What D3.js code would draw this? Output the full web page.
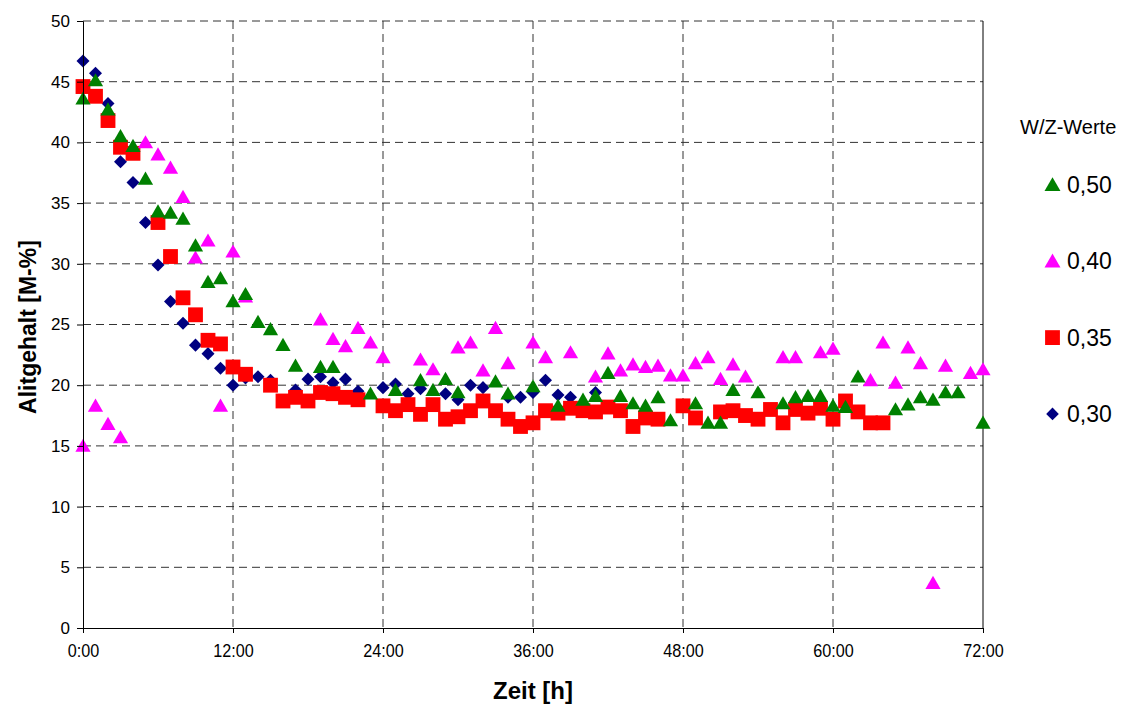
<!DOCTYPE html>
<html>
<head>
<meta charset="utf-8">
<script src="https://cdn.jsdelivr.net/npm/d3@7"></script>
<style>
  body { margin: 0; background: #fff; }
  svg { font-family: Arial, "Liberation Sans", sans-serif; }
</style>
</head>
<body>
<div id="chart"></div>
<script>
// W/Z 0,50 (green triangles) [hour, value]
var wz050 = [[0,43.6],[1,45.1],[2,42.7],[3,40.5],[4,39.7],[5,37.0],[6,34.3],[7,34.2],[8,33.7],[9,31.5],
  [10,28.5],[11,28.8],[12,26.9],[13,27.5],[14,25.2],[15,24.6],[16,23.3],[17,21.6],[19,21.5],[20,21.5],
  [23,19.3],[25,19.6],[27,20.4],[28,19.6],[29,20.5],[30,19.4],[33,20.3],[34,19.3],[36,19.9],[38,18.3],
  [40,18.8],[41,19.1],[42,21.0],[43,19.1],[44,18.5],[45,18.3],[46,19.0],[47,17.1],[49,18.5],[50,16.9],
  [51,16.9],[52,19.6],[54,19.4],[56,18.5],[57,19.0],[58,19.1],[59,19.1],[60,18.3],[61,18.2],[62,20.7],
  [65,18.0],[66,18.4],[67,19.0],[68,18.8],[69,19.4],[70,19.4],[72,16.9]];
// W/Z 0,40 (magenta triangles)
var wz040 = [[0,15.0],[1,18.3],[2,16.8],[3,15.7],[5,40.0],[6,39.0],[7,37.9],[8,35.5],[9,30.5],[10,31.9],
  [11,18.3],[12,31.0],[13,27.3],[19,25.4],[20,23.8],[21,23.2],[22,24.7],[23,23.5],[24,22.3],[27,22.1],
  [28,21.3],[30,23.1],[31,23.5],[32,21.2],[33,24.7],[34,21.8],[36,23.5],[37,22.3],[39,22.7],[41,20.7],
  [42,22.6],[43,21.2],[44,21.7],[45,21.5],[46,21.6],[47,20.8],[48,20.8],[49,21.8],[50,22.3],[51,20.5],
  [52,21.7],[53,20.7],[56,22.3],[57,22.3],[59,22.7],[60,23.0],[63,20.4],[64,23.5],[65,20.2],[66,23.1],
  [67,21.8],[68,3.7],[69,21.6],[71,21.0],[72,21.3]];
// W/Z 0,35 (red squares)
var wz035 = [[0,44.6],[1,43.8],[2,41.8],[3,39.6],[4,39.1],[6,33.4],[7,30.6],[8,27.2],[9,25.8],[10,23.7],
  [11,23.4],[12,21.5],[13,20.9],[15,20.0],[16,18.7],[17,19.0],[18,18.7],[19,19.4],[20,19.3],[21,19.0],
  [22,18.8],[24,18.3],[25,17.9],[26,18.4],[27,17.6],[28,18.4],[29,17.2],[30,17.4],[31,17.9],[32,18.7],
  [33,17.9],[34,17.2],[35,16.6],[36,16.9],[37,17.9],[38,17.7],[39,18.1],[40,17.9],[41,17.8],[42,18.2],
  [43,17.9],[44,16.6],[45,17.3],[46,17.2],[48,18.3],[49,17.3],[51,17.8],[52,17.9],[53,17.5],[54,17.2],
  [55,18.0],[56,16.9],[57,18.0],[58,17.7],[59,18.1],[60,17.2],[61,18.7],[62,17.8],[63,16.9],[64,16.9]];
// W/Z 0,30 (blue diamonds)
var wz030 = [[0,46.7],[1,45.7],[2,43.2],[3,38.4],[4,36.7],[5,33.4],[6,29.9],[7,26.9],[8,25.1],[9,23.3],
  [10,22.6],[11,21.4],[12,20.0],[13,20.6],[14,20.7],[15,20.4],[17,19.6],[18,20.5],[19,20.7],[20,20.2],
  [21,20.5],[22,19.5],[24,19.8],[25,20.1],[26,19.3],[27,19.7],[29,19.3],[30,18.8],[31,20.0],[32,19.8],
  [34,19.0],[35,19.0],[36,19.4],[37,20.4],[38,19.2],[39,19.0],[41,19.4]];

var xTicks = [0,12,24,36,48,60,72];
var xTickLabels = ["0:00","12:00","24:00","36:00","48:00","60:00","72:00"];
var yTicks = [0,5,10,15,20,25,30,35,40,45,50];

var series = [
  {name:"0,30", data:wz030, color:"#000080", shape:"diamond"},
  {name:"0,35", data:wz035, color:"#ff0000", shape:"square"},
  {name:"0,40", data:wz040, color:"#ff00ff", shape:"triangle"},
  {name:"0,50", data:wz050, color:"#008000", shape:"triangle"}
];
var legendOrder = ["0,50","0,40","0,35","0,30"];

var w=1128, h=704;
var padL=83, padR=983, padT=21, padB=628;

var svg=d3.select('#chart').append('svg').attr('width',w).attr('height',h);

var xscale=d3.scaleLinear().domain([0,72]).range([padL,padR]);
var yscale=d3.scaleLinear().domain([0,50]).range([padB,padT]);

// grid
svg.append('g').selectAll('line')
  .data(xTicks.slice(1,-1)).enter().append('line')
  .attr('x1',d=>xscale(d)).attr('x2',d=>xscale(d))
  .attr('y1',padT).attr('y2',padB)
  .attr('stroke','#333').attr('stroke-dasharray','8,5');
svg.append('g').selectAll('line')
  .data(yTicks.slice(1)).enter().append('line')
  .attr('x1',padL).attr('x2',padR)
  .attr('y1',d=>yscale(d)).attr('y2',d=>yscale(d))
  .attr('stroke','#333').attr('stroke-dasharray','8,5');
// right border
svg.append('line').attr('x1',padR).attr('x2',padR).attr('y1',padT).attr('y2',padB)
  .attr('stroke','#000');

var symbols = {
  diamond: d3.symbol().type(d3.symbolSquare).size(85),
  square: d3.symbol().type(d3.symbolSquare).size(220),
  triangle: d3.symbol().type(d3.symbolTriangle).size(100)
};

series.forEach(function(s) {
  svg.append('g').selectAll('path')
    .data(s.data).enter().append('path')
      .attr('d', symbols[s.shape])
      .attr('fill', s.color)
      .attr('transform', d => 'translate('+xscale(d[0])+','+(yscale(d[1]) + (s.shape=='triangle'?1.5:0))+')' + (s.shape=='diamond'?' rotate(45)':''));
});

// axes
var xaxis=d3.axisBottom(xscale).tickValues(xTicks).tickFormat((d,i)=>xTickLabels[i]).tickSize(5).tickPadding(11);
var yaxis=d3.axisLeft(yscale).tickValues(yTicks).tickSize(6).tickPadding(7);
var gx=svg.append('g').attr('transform','translate(0,'+padB+')').call(xaxis);
var gy=svg.append('g').attr('transform','translate('+padL+',0)').call(yaxis);
[gx,gy].forEach(function(g){
  g.attr('font-size',null).attr('font-family',null);
  g.select('.domain').attr('stroke','#000');
  g.selectAll('.tick line').attr('stroke','#000');
  g.selectAll('.tick text').attr('fill','#000');
});
gy.selectAll('.tick text').style('font-size','17px');
gx.selectAll('.tick text').style('font-size','18px').attr('transform','scale(0.9,1)');

// titles
svg.append('text').attr('x',533).attr('y',699)
  .attr('text-anchor','middle').style('font-weight','bold').style('font-size','24px').text('Zeit [h]');
svg.append('text').attr('transform','translate(36,327) rotate(-90)')
  .attr('text-anchor','middle').style('font-weight','bold').style('font-size','23px').text('Alitgehalt [M-%]');

// legend
svg.append('text').attr('x',1020).attr('y',134).style('font-size','20px').text('W/Z-Werte');
legendOrder.forEach(function(name,i){
  var s=series.find(x=>x.name==name);
  var ly=185+i*76.3;
  var sym = s.shape=='square' ? d3.symbol().type(d3.symbolSquare).size(220) :
            s.shape=='diamond' ? d3.symbol().type(d3.symbolSquare).size(80) :
            d3.symbol().type(d3.symbolTriangle).size(110);
  svg.append('path').attr('d',sym).attr('fill',s.color)
    .attr('transform','translate(1052.5,'+(ly+(s.shape=='triangle'?1.5:0))+')'+(s.shape=='diamond'?' rotate(45)':''));
  svg.append('text').attr('x',1067).attr('y',ly+8).style('font-size','23px').text(name);
});
</script>
</body>
</html>
